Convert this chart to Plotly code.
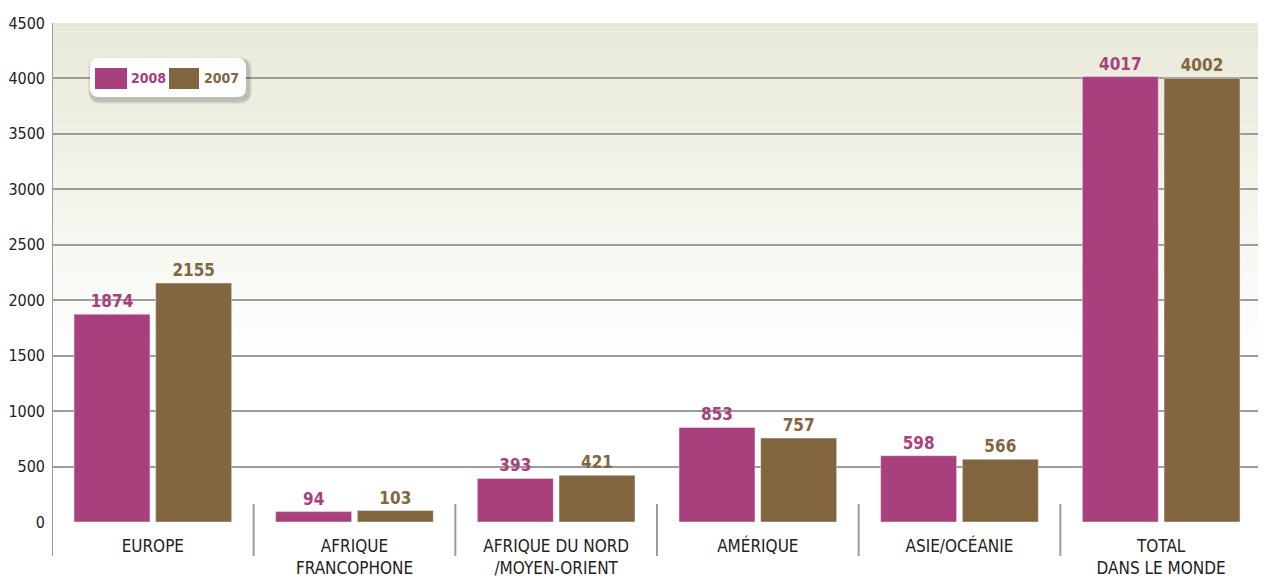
import plotly.graph_objects as go

categories = ["EUROPE", "AFRIQUE<br>FRANCOPHONE", "AFRIQUE DU NORD<br>/MOYEN-ORIENT",
              "AMÉRIQUE", "ASIE/OCÉANIE", "TOTAL<br>DANS LE MONDE"]
values_2008 = [1874, 94, 393, 853, 598, 4017]
values_2007 = [2155, 103, 421, 757, 566, 4002]
y_ticks = [0, 500, 1000, 1500, 2000, 2500, 3000, 3500, 4000, 4500]

C2008 = "#a8407e"
C2007 = "#826640"
FONT = "Liberation Sans Narrow, DejaVu Sans Condensed, Roboto Condensed, Arial Narrow, sans-serif"
GRID = "#9c9c9c"

# the page has an 8px body margin; work in screen coordinates and offset
OFF = 8
W, H = 1258, 570
ML, MR, MT, MB = 52 - OFF, 4, 23 - OFF, 56
PW, PH = W - ML - MR, H - MT - MB

def px_x(p):  # screen px -> paper
    return (p - OFF - ML) / PW

def px_y(p):
    return (H - MB - (p - OFF)) / PH

fig = go.Figure()
xs = list(range(len(categories)))
fig.add_trace(go.Bar(x=xs, y=values_2008, name="2008", marker_color=C2008,
                     text=[str(v) for v in values_2008], textposition="outside",
                     textfont=dict(family=FONT, size=17, color=C2008), cliponaxis=False))
fig.add_trace(go.Bar(x=xs, y=values_2007, name="2007", marker_color=C2007,
                     text=[str(v) for v in values_2007], textposition="outside",
                     textfont=dict(family=FONT, size=17, color=C2007), cliponaxis=False))

shapes = []
# background gradient (beige at top to white)
top = (232, 233, 216)
n = 40
y_hi, y_lo = 4500, 1400
for i in range(n):
    a = y_hi - (y_hi - y_lo) * i / n
    b = y_hi - (y_hi - y_lo) * (i + 1) / n
    t = i / (n - 1)
    c = tuple(int(round(top[k] + (255 - top[k]) * t)) for k in range(3))
    shapes.append(dict(type="rect", xref="paper", yref="y", x0=0, x1=1, y0=b, y1=a,
                       fillcolor="rgb(%d,%d,%d)" % c, line_width=0, layer="below"))

# frame/separators
for k in range(len(categories) + 1):
    xv = k - 0.5
    if k == 0 or k == len(categories):
        y0, y1 = px_y(556), 1
    else:
        y0, y1 = px_y(556), px_y(504)
    shapes.append(dict(type="line", xref="x", yref="paper", x0=xv, x1=xv, y0=y0, y1=y1,
                       line=dict(color=GRID, width=2), layer="above"))

# legend box with shadow and rounded corners
def rounded(x0, y0, x1, y1, r):
    return (f"M {px_x(x0 + r)} {px_y(y0)} L {px_x(x1 - r)} {px_y(y0)} "
            f"Q {px_x(x1)} {px_y(y0)} {px_x(x1)} {px_y(y0 + r)} "
            f"L {px_x(x1)} {px_y(y1 - r)} Q {px_x(x1)} {px_y(y1)} {px_x(x1 - r)} {px_y(y1)} "
            f"L {px_x(x0 + r)} {px_y(y1)} Q {px_x(x0)} {px_y(y1)} {px_x(x0)} {px_y(y1 - r)} "
            f"L {px_x(x0)} {px_y(y0 + r)} Q {px_x(x0)} {px_y(y0)} {px_x(x0 + r)} {px_y(y0)} Z")

for off, op in [(4, 0.05), (3, 0.07), (2, 0.09)]:
    shapes.append(dict(type="path", xref="paper", yref="paper",
                       path=rounded(90 - off + 2, 58 - off + 3, 246 + off + 2, 97 + off + 3, 9 + off),
                       fillcolor="rgba(0,0,0,%s)" % op, line_width=0, layer="above"))
shapes.append(dict(type="path", xref="paper", yref="paper", path=rounded(90, 58, 246, 97, 9),
                   fillcolor="white", line_width=0, layer="above"))
shapes.append(dict(type="rect", xref="paper", yref="paper", x0=px_x(95), x1=px_x(127),
                   y0=px_y(89), y1=px_y(68), fillcolor=C2008, line_width=0, layer="above"))
shapes.append(dict(type="rect", xref="paper", yref="paper", x0=px_x(169), x1=px_x(199),
                   y0=px_y(89), y1=px_y(68), fillcolor=C2007, line_width=0, layer="above"))

annotations = [
    dict(xref="paper", yref="paper", x=px_x(129), y=px_y(78.5), text="<b>2008</b>",
         showarrow=False, xanchor="left", yanchor="middle",
         font=dict(family=FONT, size=14, color=C2008)),
    dict(xref="paper", yref="paper", x=px_x(202), y=px_y(78.5), text="<b>2007</b>",
         showarrow=False, xanchor="left", yanchor="middle",
         font=dict(family=FONT, size=14, color=C2007)),
]

fig.update_layout(
    width=W, height=H,
    margin=dict(l=ML, r=MR, t=MT, b=MB, autoexpand=False),
    paper_bgcolor="white", plot_bgcolor="white",
    barmode="group", bargap=0.19, bargroupgap=0.07,
    showlegend=False,
    shapes=shapes, annotations=annotations,
    font=dict(family=FONT, color="#222222"),
    xaxis=dict(range=[-0.5, len(categories) - 0.5], tickvals=xs, ticktext=categories,
               tickfont=dict(family=FONT, size=17, color="#222222"),
               showgrid=False, zeroline=False, showline=False, ticks="",
               ticklabelstandoff=12, automargin=False),
    yaxis=dict(range=[0, 4500], tickvals=y_ticks, ticktext=[str(v) for v in y_ticks],
               tickfont=dict(family=FONT, size=16, color="#222222"),
               showgrid=True, gridcolor=GRID, gridwidth=1.5, zeroline=False,
               showline=False, ticks="", ticklabelstandoff=6, automargin=False),
)
fig.update_traces(texttemplate="<b>%{text}</b>")

fig.write_html("out.html")
